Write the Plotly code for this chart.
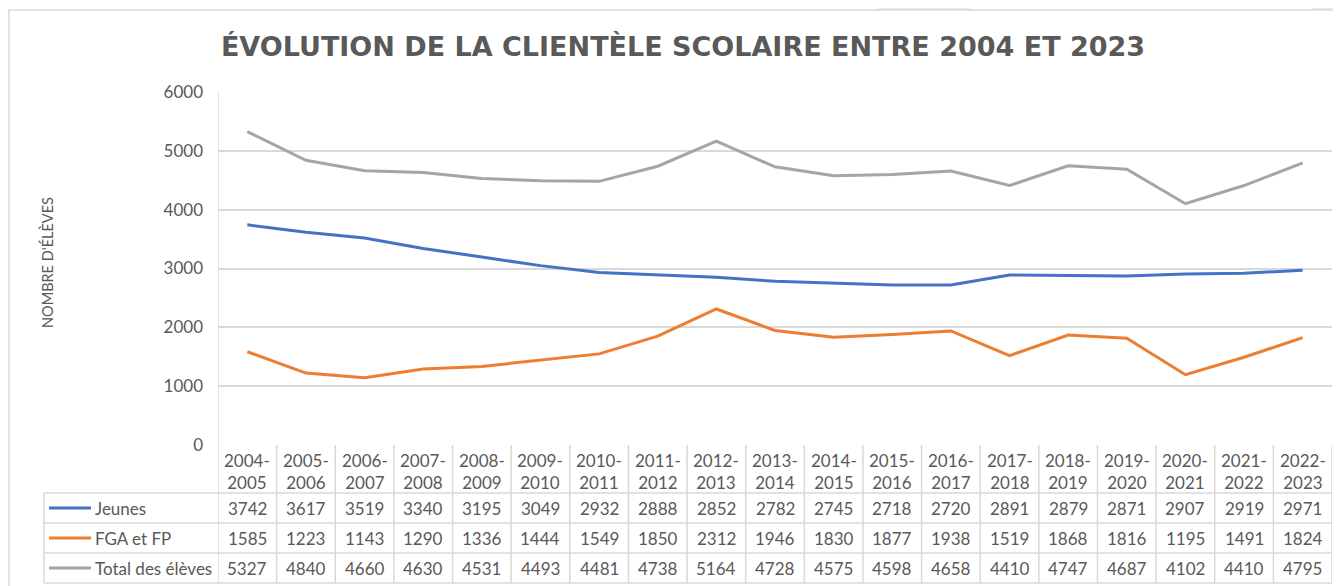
import plotly.graph_objects as go

categories = ["2004-2005", "2005-2006", "2006-2007", "2007-2008", "2008-2009", "2009-2010",
              "2010-2011", "2011-2012", "2012-2013", "2013-2014", "2014-2015", "2015-2016",
              "2016-2017", "2017-2018", "2018-2019", "2019-2020", "2020-2021", "2021-2022",
              "2022-2023"]
jeunes = [3742, 3617, 3519, 3340, 3195, 3049, 2932, 2888, 2852, 2782, 2745, 2718, 2720,
          2891, 2879, 2871, 2907, 2919, 2971]
fga_fp = [1585, 1223, 1143, 1290, 1336, 1444, 1549, 1850, 2312, 1946, 1830, 1877, 1938,
          1519, 1868, 1816, 1195, 1491, 1824]
total = [5327, 4840, 4660, 4630, 4531, 4493, 4481, 4738, 5164, 4728, 4575, 4598, 4658,
         4410, 4747, 4687, 4102, 4410, 4795]
series_names = ["Jeunes", "FGA et FP", "Total des élèves"]
series_colors = ["#4472c4", "#ed7d31", "#a5a5a5"]
title_text = "ÉVOLUTION DE LA CLIENTÈLE SCOLAIRE ENTRE 2004 ET 2023"
y_title = "NOMBRE D'ÉLÈVES"

# page is rendered with an 8px body margin -> work in page coords, convert
OFF = 8
W, H = 1341 - OFF, 586 - OFF
PLOT_L, PLOT_R, PLOT_T, PLOT_B = 218, 1332, 92, 445  # page coords
L = PLOT_L - OFF
R = W - (PLOT_R - OFF)
T = PLOT_T - OFF
B = H - (PLOT_B - OFF)
PW, PH = W - L - R, H - T - B
FONT = "Lato"
TXT = "#595959"
GRID = "#d9d9d9"


def px(xp):
    return (xp - OFF - L) / PW


def py(yp):
    return (H - B - (yp - OFF)) / PH


fig = go.Figure()
xs = list(range(len(categories)))
for name, vals, col in zip(series_names, [jeunes, fga_fp, total], series_colors):
    fig.add_trace(go.Scatter(x=xs, y=vals, mode="lines", name=name,
                             line=dict(color=col, width=3), hoverinfo="skip"))

shapes = []
ann = []
n = len(categories)

# outer chart border
shapes.append(dict(type="path", xref="paper", yref="paper",
                   path=f"M {px(9)},{py(600)} L {px(9)},{py(10)} L {px(1350)},{py(10)}",
                   line=dict(color=GRID, width=1.5)))
# decorative pink blocks at top
for x0, x1 in [(878, 970), (1312, 1350)]:
    shapes.append(dict(type="rect", xref="paper", yref="paper", x0=px(x0), x1=px(x1),
                       y0=py(0), y1=py(9), fillcolor="#f2e4f0", line=dict(width=0)))

row_top = 493
row_h = 30
row_bot = row_top + 3 * row_h
# vertical lines between categories
for i in range(n + 1):
    ytop = py(PLOT_T) if i == 0 else py(PLOT_B)
    shapes.append(dict(type="line", xref="x", yref="paper", x0=i - 0.5, x1=i - 0.5,
                       y0=ytop, y1=py(row_bot), line=dict(color=GRID, width=1.5)))
# left border of legend column
shapes.append(dict(type="line", xref="paper", yref="paper", x0=px(44), x1=px(44),
                   y0=py(row_top), y1=py(row_bot), line=dict(color=GRID, width=1.5)))
for k in range(4):
    yy = py(row_top + k * row_h)
    shapes.append(dict(type="line", xref="paper", yref="paper",
                       x0=px(44), x1=1, y0=yy, y1=yy, line=dict(color=GRID, width=1.5)))

# header labels
for i, c in enumerate(categories):
    a, b = c.split("-")
    ann.append(dict(x=i, y=py(471), xref="x", yref="paper", text=f"{a}-<br>{b}",
                    showarrow=False, font=dict(family=FONT, size=17, color=TXT),
                    align="center", yanchor="middle"))

# data rows
for k, (name, vals, col) in enumerate(zip(series_names, [jeunes, fga_fp, total], series_colors)):
    yc = py(row_top + k * row_h + row_h / 2)
    shapes.append(dict(type="line", xref="paper", yref="paper", x0=px(49), x1=px(91),
                       y0=yc, y1=yc, line=dict(color=col, width=3)))
    ann.append(dict(x=px(93), y=yc, xref="paper", yref="paper", text=name, showarrow=False,
                    xanchor="left", yanchor="middle", font=dict(family=FONT, size=17, color=TXT)))
    for i, v in enumerate(vals):
        ann.append(dict(x=i, y=yc, xref="x", yref="paper", text=str(v), showarrow=False,
                        xanchor="center", yanchor="middle",
                        font=dict(family=FONT, size=17, color=TXT)))

# y axis title
ann.append(dict(x=px(47), y=py(263), xref="paper", yref="paper", text=y_title,
                textangle=-90, showarrow=False, xanchor="center", yanchor="middle",
                font=dict(family=FONT, size=14.5, color=TXT)))

fig.update_layout(
    width=W, height=H,
    margin=dict(l=L, r=R, t=T, b=B, autoexpand=False),
    paper_bgcolor="white", plot_bgcolor="white",
    showlegend=False,
    title=dict(text=f"<b>{title_text}</b>", x=(683 - OFF) / W, xanchor="center",
               xref="container", y=1 - (47 - OFF) / H, yanchor="middle", yref="container",
               font=dict(family="DejaVu Sans", size=27, color=TXT)),
    xaxis=dict(range=[-0.5, n - 0.5], showticklabels=False, showgrid=False,
               zeroline=False, showline=False, fixedrange=True),
    yaxis=dict(range=[0, 6000], dtick=1000, showgrid=True, gridcolor=GRID, gridwidth=1.5,
               zeroline=False, showline=False, ticks="", ticklabelstandoff=14,
               tickfont=dict(family=FONT, size=17, color=TXT), fixedrange=True),
    shapes=shapes, annotations=ann,
)

fig.write_html("out.html")
